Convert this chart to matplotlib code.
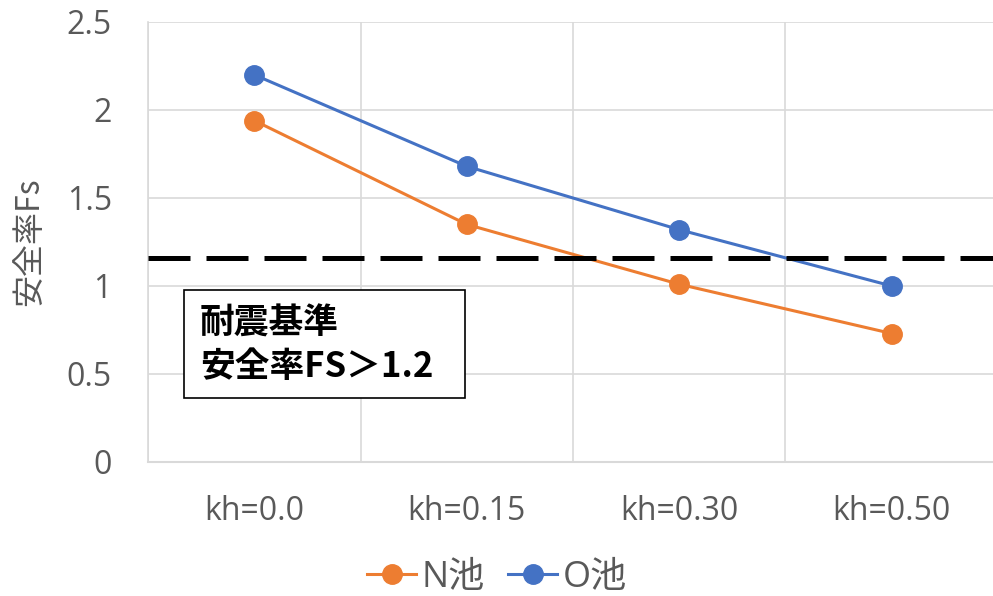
import matplotlib.pyplot as plt
from matplotlib.patches import Rectangle

plt.rcParams['font.family'] = ['Open Sans', 'Noto Sans CJK JP', 'DejaVu Sans']

# data
categories = ["kh=0.0", "kh=0.15", "kh=0.30", "kh=0.50"]
n_pond = [1.94, 1.35, 1.01, 0.73]
o_pond = [2.20, 1.68, 1.32, 1.00]
threshold = 1.16
note_lines = ["耐震基準", "安全率FS＞1.2"]

W, H = 993, 596
fig = plt.figure(figsize=(W / 100, H / 100), dpi=100)
# plot area runs a little past the right edge, like the original crop
ax = fig.add_axes([148 / W, 1 - 462 / H, 850 / W, 440 / H])

x = list(range(len(categories)))
grey = "#595959"
grid = "#d9d9d9"

ax.plot(x, n_pond, color="#ED7D31", lw=2.2, marker="o", ms=14, label="N池", zorder=3)
ax.plot(x, o_pond, color="#4472C4", lw=2.2, marker="o", ms=14, label="O池", zorder=3)
ax.axhline(threshold, color="black", lw=3.6, linestyle=(0, (8.4, 3.2)), zorder=4)

ax.set_xlim(-0.5, len(categories) - 0.5)
ax.set_ylim(0, 2.5)
ax.set_yticks([0, 0.5, 1, 1.5, 2, 2.5])
ax.set_yticklabels(["0", "0.5", "1", "1.5", "2", "2.5"])
ax.set_xticks(x)
ax.set_xticklabels(categories)
ax.set_xticks([i - 0.5 for i in range(len(categories) + 1)], minor=True)

ax.grid(axis="y", color=grid, lw=1.2)
ax.grid(axis="x", which="minor", color=grid, lw=1.2)
ax.tick_params(axis="both", which="both", length=0, colors=grey, labelsize=23)
ax.tick_params(axis="y", pad=26)
ax.tick_params(axis="x", pad=24)
for s in ["top", "right"]:
    ax.spines[s].set_visible(False)
ax.spines["left"].set_color(grid)
ax.spines["bottom"].set_color(grid)
ax.spines["left"].set_linewidth(1.2)
ax.spines["bottom"].set_linewidth(1.5)
ax.set_axisbelow(True)

ax.set_ylabel("安全率Fs", color=grey, fontsize=23, family=['Noto Sans CJK JP', 'DejaVu Sans'])
ax.yaxis.set_label_coords(-(148 - 45) / 850, 0.5)

# note box
fig.patches.append(Rectangle((184 / W, 1 - 398 / H), (465 - 184) / W, (398 - 290) / H,
                             transform=fig.transFigure, fill=True, facecolor="white",
                             edgecolor="black", lw=1.2, zorder=5))
note_font = ['Noto Sans CJK JP', 'DejaVu Sans']
fig.text(200 / W, 1 - 323 / H, note_lines[0], fontsize=25, fontweight="bold", va="center",
         family=note_font, zorder=6)
fig.text(200 / W, 1 - 367 / H, note_lines[1], fontsize=25, fontweight="bold", va="center",
         family=note_font, zorder=6)

fig.legend(loc="center", bbox_to_anchor=(497 / W, 1 - 578 / H), ncol=2, frameon=False,
           fontsize=26, labelcolor=grey, handlelength=1.35, handletextpad=0.15, columnspacing=0.65)

fig.savefig("out.png", dpi=100)
